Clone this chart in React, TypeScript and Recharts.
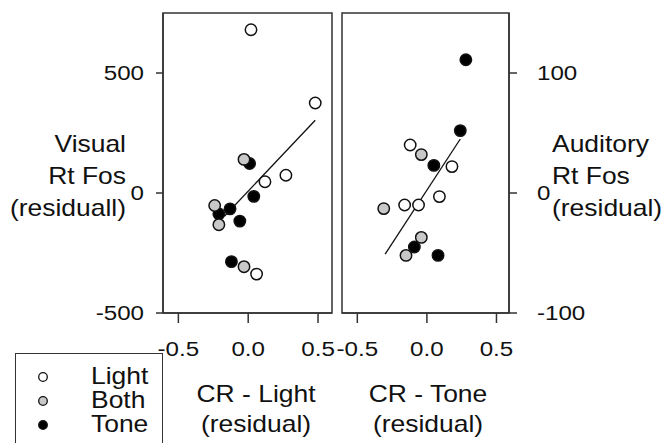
import { ScatterChart, Scatter, XAxis, YAxis, ReferenceArea, Legend } from 'recharts';

// [CR residual, Rt Fos residual] pairs
const VISUAL_LIGHT = [[0.02, 680], [0.48, 375], [0.12, 47], [0.27, 74], [0.06, -338]];
const VISUAL_BOTH = [[-0.03, 140], [-0.24, -52], [-0.21, -132], [-0.03, -307]];
const VISUAL_TONE = [[0.01, 123], [0.04, -14], [-0.13, -66], [-0.21, -87], [-0.06, -117], [-0.12, -286]];
const VISUAL_FIT = [[-0.17, -97], [0.48, 303]];

const AUDITORY_LIGHT = [[-0.12, 40], [0.18, 22], [-0.16, -10], [-0.06, -10], [0.09, -3]];
const AUDITORY_BOTH = [[-0.04, 32], [-0.31, -13], [-0.04, -37], [-0.15, -52]];
const AUDITORY_TONE = [[0.28, 111], [0.24, 52], [0.05, 23], [-0.09, -45], [0.08, -52]];
const AUDITORY_FIT = [[-0.3, -51], [0.24, 45]];

const X_TICKS = [-0.5, 0, 0.5];
const VISUAL_TICKS = [-500, 0, 500];
const AUDITORY_TICKS = [-100, 0, 100];

const GROUPS = ['Light', 'Both', 'Tone'];
const GROUP_FILLS = ['#ffffff', '#c8c8c8', '#000000'];

const FONT = '"Liberation Sans", Arial, sans-serif';
const STRETCH = 1.15; // the scanned figure's text is a bit wider than Arial
const INK = '#111';
const FRAME = '#333';

const toPoints = (pairs: number[][]) => pairs.map(([x, y]) => ({ x, y }));

function WideText({ x, y, anchor, size, dy, children }: any) {
  return (
    <g transform={`translate(${x},${y})`}>
      <text transform={`scale(${STRETCH},1)`} textAnchor={anchor} dy={dy} fontSize={size} fontFamily={FONT} fill={INK}>
        {children}
      </text>
    </g>
  );
}

const xTick = (props: any) => (
  <WideText x={props.x} y={props.y} anchor="middle" size={21} dy="0.71em">
    {Number(props.payload.value).toFixed(1)}
  </WideText>
);

const yTick = (anchor: string) => (props: any) => (
  <WideText x={props.x} y={props.y} anchor={anchor} size={21} dy="0.355em">
    {props.payload.value}
  </WideText>
);

const marker = (fill: string) => (props: any) => (
  <circle cx={props.cx} cy={props.cy} r={5.7} fill={fill} stroke="#111" strokeWidth={1.5} />
);

function LegendBox() {
  return (
    <div style={{ width: 148, height: 100, border: `1.5px solid ${FRAME}`, boxSizing: 'border-box' }}>
      <svg width={145} height={97} style={{ display: 'block' }}>
        {GROUPS.map((name, i) => (
          <g key={name}>
            <circle cx={27} cy={23 + 24 * i} r={4.3} fill={GROUP_FILLS[i]} stroke="#111" strokeWidth={1.3} />
            <WideText x={75} y={30 + 24 * i} anchor="start" size={23}>
              {name}
            </WideText>
          </g>
        ))}
      </svg>
    </div>
  );
}

type PanelProps = {
  light: number[][];
  both: number[][];
  tone: number[][];
  fit: number[][];
  xDomain: number[];
  yDomain: number[];
  yTicks: number[];
  side: 'left' | 'right';
  yTitle: string[];
  xTitle: string[];
  xTitleShift: number;
  width: number;
  marginLeft: number;
  marginRight: number;
  yWidth: number;
  withLegend?: boolean;
};

function Panel(p: PanelProps) {
  const isLeft = p.side === 'left';
  const series = [p.tone, p.both, p.light]; // tone drawn first, light on top
  const fills = [GROUP_FILLS[2], GROUP_FILLS[1], GROUP_FILLS[0]];
  const names = ['Tone', 'Both', 'Light'];

  const yTitle = (lp: any) => {
    const vb = lp.viewBox;
    const x = isLeft ? vb.x + vb.width - 37 : vb.x + 43;
    return (
      <g>
        {p.yTitle.map((line, i) => (
          <WideText key={line} x={x} y={vb.y + 139 + 32 * i} anchor={isLeft ? 'end' : 'start'} size={23}>
            {line}
          </WideText>
        ))}
      </g>
    );
  };

  const xTitle = (lp: any) => {
    const vb = lp.viewBox;
    const cx = vb.x + vb.width / 2 + p.xTitleShift;
    return (
      <g>
        {p.xTitle.map((line, i) => (
          <WideText key={line} x={cx} y={vb.y + 89 + 30 * i} anchor="middle" size={23}>
            {line}
          </WideText>
        ))}
      </g>
    );
  };

  return (
    <ScatterChart width={p.width} height={443} margin={{ top: 13, right: p.marginRight, bottom: 90, left: p.marginLeft }}>
      <ReferenceArea
        x1={p.xDomain[0]}
        x2={p.xDomain[1]}
        y1={p.yDomain[0]}
        y2={p.yDomain[1]}
        fill="none"
        stroke={FRAME}
        strokeWidth={1.5}
      />
      <XAxis
        type="number"
        dataKey="x"
        domain={p.xDomain}
        ticks={X_TICKS}
        allowDataOverflow
        height={40}
        tickSize={10}
        tickMargin={18}
        axisLine={{ stroke: FRAME, strokeWidth: 1.5 }}
        tickLine={{ stroke: FRAME, strokeWidth: 1.5 }}
        tick={xTick}
        label={xTitle}
      />
      <YAxis
        type="number"
        dataKey="y"
        orientation={p.side}
        domain={p.yDomain}
        ticks={p.yTicks}
        allowDataOverflow
        width={p.yWidth}
        tickSize={isLeft ? 7 : 8}
        tickMargin={isLeft ? 12 : 20}
        axisLine={{ stroke: FRAME, strokeWidth: 1.5 }}
        tickLine={{ stroke: FRAME, strokeWidth: 1.5 }}
        tick={yTick(isLeft ? 'end' : 'start')}
        label={yTitle}
      />
      <Scatter
        data={toPoints(p.fit)}
        line={{ stroke: '#111', strokeWidth: 1.3 }}
        shape={() => <g />}
        legendType="none"
        isAnimationActive={false}
      />
      {series.map((s, i) => (
        <Scatter key={names[i]} name={names[i]} data={toPoints(s)} shape={marker(fills[i])} isAnimationActive={false} />
      ))}
      {p.withLegend && (
        <Legend align="center" verticalAlign="middle" wrapperStyle={{ left: 15, top: 353, width: 148 }} content={() => <LegendBox />} />
      )}
    </ScatterChart>
  );
}

export default function App() {
  return (
    <div style={{ position: 'absolute', left: 0, top: 0, width: 665, height: 443, overflow: 'hidden', background: '#fff' }}>
      <div style={{ position: 'absolute', left: 0, top: 0 }}>
        <Panel
          light={VISUAL_LIGHT}
          both={VISUAL_BOTH}
          tone={VISUAL_TONE}
          fit={VISUAL_FIT}
          xDomain={[-0.61, 0.6]}
          yDomain={[-500, 750]}
          yTicks={VISUAL_TICKS}
          side="left"
          yTitle={['Visual', 'Rt Fos', '(residuall)']}
          xTitle={['CR - Light', '(residual)']}
          xTitleShift={8.5}
          width={340}
          marginLeft={0}
          marginRight={8}
          yWidth={163}
          withLegend
        />
      </div>
      <div style={{ position: 'absolute', left: 320, top: 0 }}>
        <Panel
          light={AUDITORY_LIGHT}
          both={AUDITORY_BOTH}
          tone={AUDITORY_TONE}
          fit={AUDITORY_FIT}
          xDomain={[-0.61, 0.59]}
          yDomain={[-100, 150]}
          yTicks={AUDITORY_TICKS}
          side="right"
          yTitle={['Auditory', 'Rt Fos', '(residual)']}
          xTitle={['CR - Tone', '(residual)']}
          xTitleShift={2.5}
          width={345}
          marginLeft={22}
          marginRight={0}
          yWidth={156}
        />
      </div>
    </div>
  );
}
